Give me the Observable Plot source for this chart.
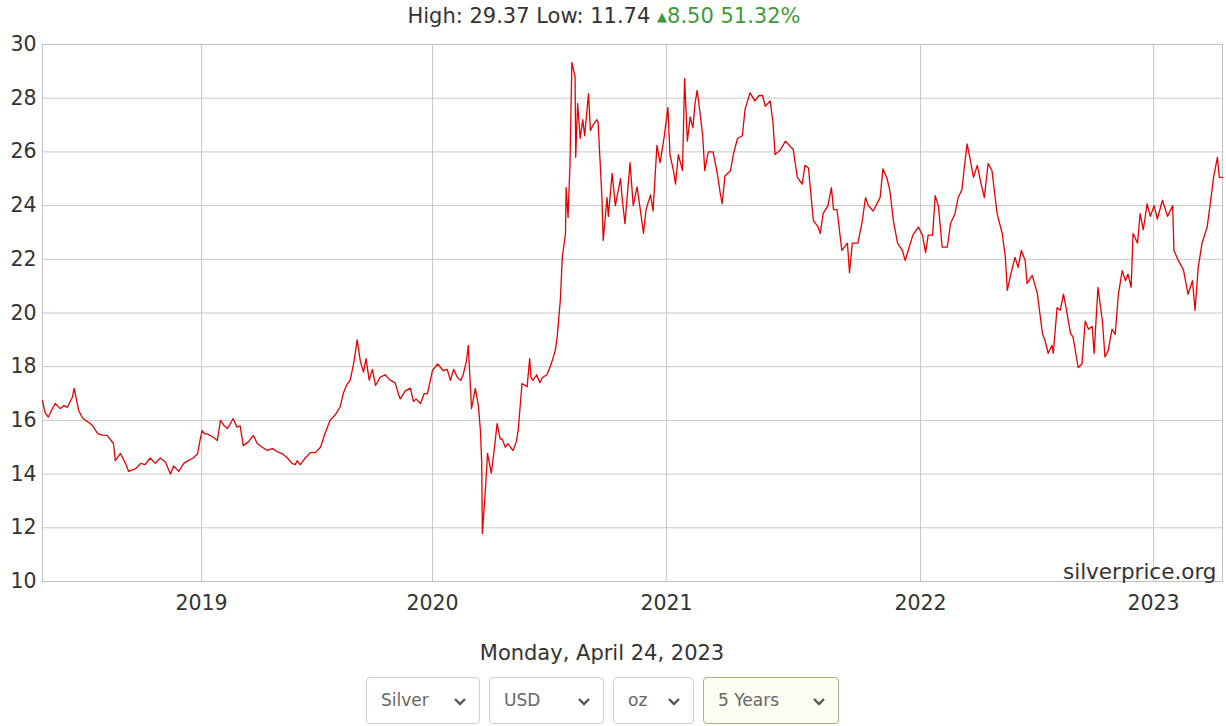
<!DOCTYPE html>
<html>
<head>
<meta charset="utf-8">
<script src="https://cdn.jsdelivr.net/npm/d3@7"></script>
<script src="https://cdn.jsdelivr.net/npm/@observablehq/plot@0.6"></script>
<style>
  html, body { margin: 0; padding: 0; background: #fff; }
  body { width: 1226px; height: 726px; overflow: hidden; position: relative;
         font-family: "DejaVu Sans", Verdana, sans-serif; color: #333; }
  #chart { position: absolute; left: 0; top: 0; }
  #stats { position: absolute; top: 4px; left: 0; width: 1208px; text-align: center; font-size: 21px; color: #333; white-space: nowrap; }
  #stats .up { color: #3d9a3d; }
  #stats .tri { font-size: 13px; position: relative; top: -2px; }
  #date { position: absolute; top: 641px; left: 0; width: 1204px; text-align: center; font-size: 21px; color: #333; }
  .sel { position: absolute; top: 677px; height: 47px; box-sizing: border-box; border: 1px solid #cfcfcf; border-radius: 4px;
         background: #fff; font-size: 17px; color: #666; line-height: 45px; padding-left: 14px; }
  .sel svg { position: absolute; right: 12px; top: 19px; }
  .sel.active { border-color: #a8b27a; background: #fdfdf2; }
</style>
</head>
<body>
<div id="stats"></div>
<div id="chart"></div>
<div id="date"></div>
<div id="controls"></div>
<script>
// ---- header values ----
const highValue = 29.37;
const lowValue = 11.74;
const changeValue = 8.50;
const changePct = 51.32;
const dateLabel = "Monday, April 24, 2023";
const sourceLabel = "silverprice.org";
const selectLabels = ["Silver", "USD", "oz", "5 Years"];

// ---- axis ticks ----
const yTicks = [10, 12, 14, 16, 18, 20, 22, 24, 26, 28, 30];
const yearTicks = ["2019-01-01", "2020-01-01", "2021-01-01", "2022-01-01", "2023-01-01"];
const yearLabels = ["2019", "2020", "2021", "2022", "2023"];

// ---- series: silver price (USD/oz) ----
const dates = [
"2018-04-25","2018-04-29","2018-05-04","2018-05-11","2018-05-15","2018-05-23","2018-05-29","2018-06-03","2018-06-11","2018-06-14",
"2018-06-21","2018-06-27","2018-07-02","2018-07-08","2018-07-13","2018-07-21","2018-07-29","2018-08-05","2018-08-15","2018-08-18",
"2018-08-26","2018-09-03","2018-09-08","2018-09-11","2018-09-19","2018-09-27","2018-10-04","2018-10-12","2018-10-20","2018-10-28",
"2018-11-05","2018-11-13","2018-11-18","2018-11-26","2018-12-04","2018-12-11","2018-12-19","2018-12-26","2018-12-30",
"2019-01-02","2019-01-06","2019-01-10","2019-01-18","2019-01-26","2019-01-31","2019-02-06","2019-02-11","2019-02-15","2019-02-20",
"2019-02-26","2019-03-03","2019-03-08","2019-03-16","2019-03-24","2019-03-30","2019-04-07","2019-04-15","2019-04-23","2019-05-01",
"2019-05-09","2019-05-16","2019-05-24","2019-05-29","2019-06-01","2019-06-06","2019-06-14","2019-06-22","2019-06-30","2019-07-08",
"2019-07-15","2019-07-23","2019-07-31","2019-08-08","2019-08-13","2019-08-18","2019-08-24","2019-08-30","2019-09-04","2019-09-09",
"2019-09-14","2019-09-18","2019-09-23","2019-09-28","2019-10-03","2019-10-10","2019-10-18","2019-10-26","2019-11-03","2019-11-08",
"2019-11-11","2019-11-19","2019-11-27","2019-12-02","2019-12-06","2019-12-13","2019-12-19","2019-12-24",
"2020-01-01","2020-01-09","2020-01-18","2020-01-24","2020-01-29","2020-02-03","2020-02-09","2020-02-14","2020-02-18","2020-02-23",
"2020-02-26","2020-03-02","2020-03-08","2020-03-13","2020-03-16","2020-03-18","2020-03-19","2020-03-24","2020-03-27","2020-03-30",
"2020-04-02","2020-04-07","2020-04-11","2020-04-16","2020-04-19","2020-04-24","2020-04-28","2020-05-02","2020-05-06","2020-05-11",
"2020-05-14","2020-05-17","2020-05-20","2020-05-25","2020-05-28","2020-06-01","2020-06-03","2020-06-06","2020-06-12","2020-06-17",
"2020-06-21","2020-06-28","2020-07-03","2020-07-06","2020-07-11","2020-07-14","2020-07-19","2020-07-22","2020-07-27","2020-07-28",
"2020-07-31","2020-08-03","2020-08-06","2020-08-11","2020-08-12","2020-08-15","2020-08-19","2020-08-23","2020-08-26","2020-09-01",
"2020-09-04","2020-09-08","2020-09-14","2020-09-16","2020-09-22","2020-09-24","2020-09-27","2020-09-30","2020-10-02","2020-10-08",
"2020-10-13","2020-10-21","2020-10-24","2020-10-28","2020-11-05","2020-11-10","2020-11-16","2020-11-21","2020-11-26","2020-11-30",
"2020-12-07","2020-12-11","2020-12-17","2020-12-22","2020-12-28",
"2021-01-03","2021-01-06","2021-01-11","2021-01-14","2021-01-18","2021-01-24","2021-01-27","2021-01-31","2021-02-04","2021-02-08",
"2021-02-11","2021-02-14","2021-02-18","2021-02-22","2021-02-25","2021-03-02","2021-03-09","2021-03-15","2021-03-19","2021-03-22",
"2021-03-26","2021-04-03","2021-04-07","2021-04-13","2021-04-20","2021-04-24","2021-05-01","2021-05-08","2021-05-14","2021-05-19",
"2021-05-23","2021-05-30","2021-06-03","2021-06-06","2021-06-13","2021-06-21","2021-06-28","2021-07-02","2021-07-08","2021-07-15",
"2021-07-19","2021-07-24","2021-07-31","2021-08-07","2021-08-10","2021-08-14","2021-08-21","2021-08-26","2021-08-29","2021-09-03",
"2021-09-10","2021-09-18","2021-09-21","2021-09-25","2021-10-03","2021-10-09","2021-10-14","2021-10-18","2021-10-25","2021-10-31",
"2021-11-04","2021-11-08","2021-11-14","2021-11-18","2021-11-23","2021-11-29","2021-12-06","2021-12-10","2021-12-14","2021-12-21",
"2021-12-29",
"2022-01-04","2022-01-09","2022-01-13","2022-01-20","2022-01-24","2022-01-29","2022-02-04","2022-02-12","2022-02-17","2022-02-24",
"2022-03-01","2022-03-07","2022-03-10","2022-03-15","2022-03-20","2022-03-25","2022-03-31","2022-04-05","2022-04-11","2022-04-17",
"2022-04-23","2022-05-01","2022-05-09","2022-05-14","2022-05-17","2022-05-23","2022-05-29","2022-06-03","2022-06-08","2022-06-14",
"2022-06-17","2022-06-25","2022-07-03","2022-07-11","2022-07-15","2022-07-20","2022-07-26","2022-07-28","2022-08-03","2022-08-08",
"2022-08-13","2022-08-17","2022-08-24","2022-08-28","2022-09-05","2022-09-11","2022-09-16","2022-09-21","2022-09-27","2022-09-30",
"2022-10-06","2022-10-13","2022-10-17","2022-10-22","2022-10-28","2022-11-02","2022-11-07","2022-11-13","2022-11-18","2022-11-22",
"2022-11-27","2022-11-30","2022-12-07","2022-12-11","2022-12-16","2022-12-22","2022-12-27",
"2023-01-02","2023-01-07","2023-01-15","2023-01-23","2023-01-31","2023-02-02","2023-02-09","2023-02-17","2023-02-24","2023-03-03",
"2023-03-07","2023-03-12","2023-03-18","2023-03-26","2023-03-31","2023-04-05","2023-04-11","2023-04-14","2023-04-19"
];
const prices = [
16.74,16.30,16.12,16.45,16.63,16.44,16.55,16.48,16.85,17.19,
16.37,16.10,16.00,15.90,15.81,15.51,15.45,15.44,15.14,14.50,
14.77,14.40,14.10,14.13,14.20,14.40,14.35,14.60,14.40,14.60,
14.45,14.00,14.30,14.10,14.40,14.50,14.60,14.77,15.30,
15.62,15.50,15.50,15.40,15.25,16.00,15.80,15.70,15.85,16.07,
15.75,15.80,15.06,15.20,15.44,15.14,15.00,14.88,14.95,14.83,
14.75,14.62,14.40,14.35,14.50,14.35,14.60,14.80,14.80,15.00,
15.50,16.00,16.20,16.50,17.00,17.30,17.50,18.20,19.00,18.20,
17.80,18.30,17.50,17.90,17.30,17.60,17.70,17.50,17.40,17.00,
16.80,17.10,17.20,16.70,16.80,16.63,17.00,17.00,
17.86,18.10,17.85,17.90,17.49,17.90,17.60,17.49,17.70,18.20,
18.79,16.44,17.19,16.50,15.60,14.40,11.79,13.50,14.77,14.40,
14.03,15.00,15.88,15.30,15.30,15.00,15.14,15.00,14.88,15.20,
15.62,16.50,17.37,17.30,17.25,18.30,17.60,17.49,17.70,17.40,
17.60,17.70,18.00,18.20,18.60,19.10,20.50,22.07,22.96,24.67,
23.56,25.50,29.33,28.80,25.80,27.80,26.50,27.20,26.60,28.17,
26.80,27.00,27.20,27.10,24.30,22.70,23.50,24.30,23.60,25.20,
24.00,25.00,24.20,23.33,25.60,24.00,24.70,23.85,22.96,23.85,
24.40,23.80,26.24,25.60,26.50,
27.65,25.90,25.30,24.80,25.90,25.30,28.73,26.40,27.30,26.90,
27.80,28.29,27.50,26.60,25.30,26.00,26.00,25.20,24.50,24.07,
25.10,25.30,25.90,26.50,26.60,27.60,28.20,27.90,28.10,28.10,
27.70,27.90,27.10,25.90,26.05,26.40,26.20,26.10,25.05,24.80,
25.50,25.40,23.45,23.20,22.96,23.70,24.00,24.67,23.85,23.85,
22.33,22.60,21.50,22.60,22.60,23.37,24.30,24.00,23.80,24.10,
24.30,25.37,25.00,24.56,23.44,22.60,22.33,21.95,22.30,22.90,
23.20,
22.90,22.25,22.90,22.90,24.37,24.00,22.45,22.45,23.33,23.70,
24.30,24.60,25.30,26.30,25.70,25.05,25.50,24.90,24.30,25.57,
25.30,23.70,22.96,22.07,20.84,21.50,22.07,21.70,22.33,21.95,
21.10,21.40,20.73,19.24,18.98,18.50,18.80,18.50,20.20,20.10,
20.70,20.20,19.24,19.10,17.97,18.10,19.70,19.40,19.50,18.50,
20.95,19.70,18.36,18.60,19.40,19.20,20.70,21.58,21.20,21.45,
20.96,22.96,22.60,23.70,23.10,24.07,23.60,
24.00,23.50,24.20,23.60,24.00,22.33,21.95,21.60,20.70,21.20,
20.10,21.70,22.60,23.20,24.10,25.05,25.80,25.05,25.05
];

const data = dates.map((d, i) => ({date: new Date(d), price: prices[i]}));

// x scale: piecewise so that the year gridlines sit where the source puts them
const xKnots = ["2018-04-25", "2019-01-01", "2020-01-01", "2021-01-01", "2022-01-01", "2023-01-01", "2023-04-19"].map(d => new Date(d));
const xRange = [42, 201, 432, 666, 920, 1153, 1222];
const yearDates = yearTicks.map(d => new Date(d));

const chart = Plot.plot({
  width: 1226,
  height: 620,
  marginTop: 44,
  marginLeft: 42,
  marginRight: 4,
  marginBottom: 39,
  style: {fontFamily: "'DejaVu Sans', Verdana, sans-serif", fontSize: "20.5px", color: "#333", background: "transparent"},
  x: {type: "utc", domain: xKnots, range: xRange},
  y: {domain: [10, 30]},
  marks: [
    Plot.gridY(yTicks, {stroke: "#c8c8c8", strokeOpacity: 1}),
    Plot.gridX(yearDates, {stroke: "#c8c8c8", strokeOpacity: 1}),
    Plot.frame({stroke: "#c0c0c0"}),
    Plot.axisY(yTicks, {tickSize: 0, tickPadding: 6, label: null, fill: "#333"}),
    Plot.axisX(yearDates, {tickSize: 0, tickPadding: 14, label: null, fill: "#333",
      tickFormat: d => yearLabels[yearDates.findIndex(t => +t === +d)]}),
    Plot.line(data, {x: "date", y: "price", stroke: "#e60000", strokeWidth: 1.3}),
    Plot.text([sourceLabel], {frameAnchor: "bottom-right", dx: -6, dy: -3, fontSize: 21.5, fill: "#333"})
  ]
});
document.getElementById("chart").appendChild(chart);

// header
document.getElementById("stats").innerHTML =
  `High: ${highValue.toFixed(2)} Low: ${lowValue.toFixed(2)} <span class="up"><span class="tri">▲</span>${changeValue.toFixed(2)} ${changePct.toFixed(2)}%</span>`;
document.getElementById("date").textContent = dateLabel;

// selector boxes
const boxLeft = [366, 489, 613, 703];
const boxWidth = [114, 115, 81, 136];
const controls = document.getElementById("controls");
selectLabels.forEach((label, i) => {
  const div = document.createElement("div");
  div.className = "sel" + (i === 3 ? " active" : "");
  div.style.left = boxLeft[i] + "px";
  div.style.width = boxWidth[i] + "px";
  div.innerHTML = `${label}<svg width="14" height="10" viewBox="0 0 14 10"><polyline points="2,2 7,7 12,2" fill="none" stroke="#555" stroke-width="2.4"/></svg>`;
  controls.appendChild(div);
});
</script>
</body>
</html>
